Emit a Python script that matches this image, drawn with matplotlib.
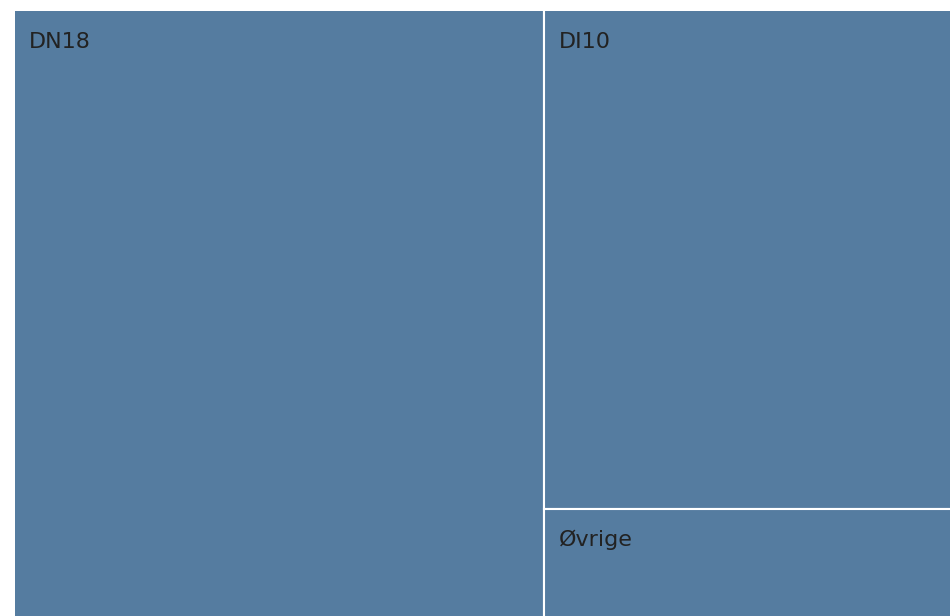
import matplotlib
matplotlib.use("Agg")
import matplotlib.pyplot as plt
from matplotlib.patches import Rectangle

# treemap data (share of total)
labels = ["DN18", "DI10", "Øvrige"]
values = [56.6, 35.6, 7.8]

box_color = "#557ca0"
text_color = "#222222"

W, H = 950, 616
fig = plt.figure(figsize=(W / 100, H / 100), dpi=100)
# plot area in pixels: x 15..950, y 11..616 (the treemap runs past the edge)
ax = fig.add_axes([15 / W, 0, 935 / W, 605 / H])
ax.set_xlim(0, 935)
ax.set_ylim(605, 0)
ax.axis("off")

total = sum(values)
ox, oy = -2, -2
aw, ah = 939, 610

# first item takes a full-height column, the rest are stacked in the other column
rects = []
w0 = aw * values[0] / total
rects.append((ox, oy, w0, ah))
rest = sum(values[1:])
y = oy
for v in values[1:]:
    h = ah * v / rest
    rects.append((ox + w0, y, aw - w0, h))
    y += h

for (x0, y0, w, h), lab in zip(rects, labels):
    ax.add_patch(Rectangle((x0, y0), w, h, facecolor=box_color,
                           edgecolor="white", linewidth=1.5))
    ax.text(max(x0, 0) + 14, max(y0, 0) + 37, lab, fontsize=16, color=text_color,
            ha="left", va="baseline", family="DejaVu Sans")

fig.savefig("out.png", dpi=100)
